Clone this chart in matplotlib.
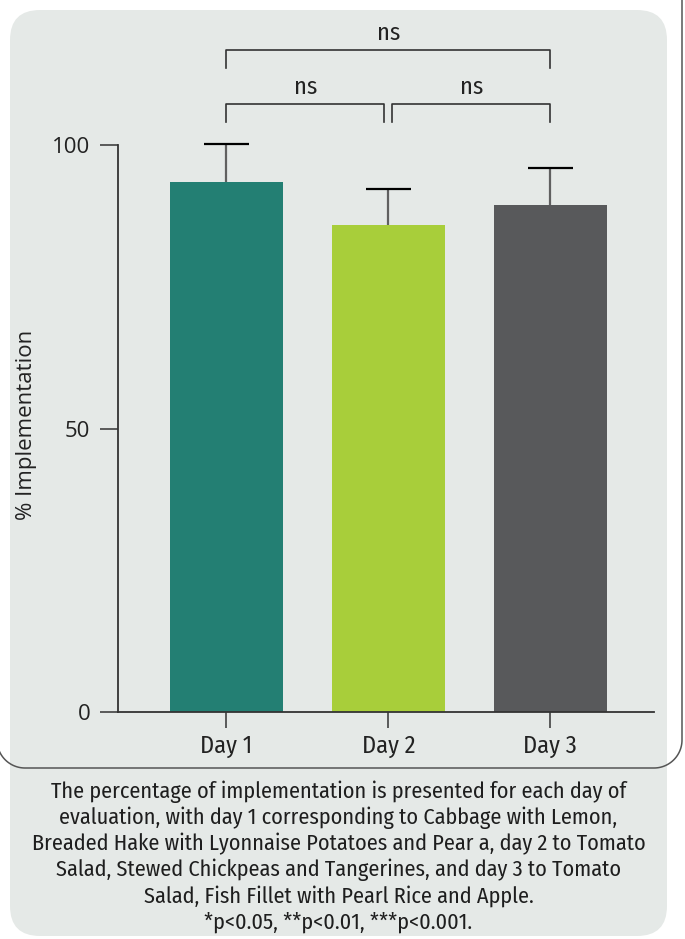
import matplotlib
matplotlib.use("Agg")
import matplotlib.pyplot as plt
import numpy as np
from matplotlib import font_manager
from matplotlib.lines import Line2D
from matplotlib.patches import FancyBboxPatch
from matplotlib.transforms import IdentityTransform

# values
days = ["Day 1", "Day 2", "Day 3"]
means = [93.5, 85.9, 89.4]
sds = [6.6, 6.3, 6.5]
bar_colors = ["#237f73", "#a8ce3a", "#58595b"]
yticks = [0, 50, 100]
caption = [
    "The percentage of implementation is presented for each day of",
    "evaluation, with day 1 corresponding to Cabbage with Lemon,",
    "Breaded Hake with Lyonnaise Potatoes and Pear a, day 2 to Tomato",
    "Salad, Stewed Chickpeas and Tangerines, and day 3 to Tomato",
    "Salad, Fish Fillet with Pearl Rice and Apple.",
    "*p<0.05, **p<0.01, ***p<0.001.",
]
# (left, right, label) comparisons
pairs = [(0, 2, "ns"), (0, 1, "ns"), (1, 2, "ns")]


def pick(*names):
    for n in names:
        try:
            font_manager.findfont(font_manager.FontProperties(family=n),
                                  fallback_to_default=False)
            return n
        except Exception:
            pass
    return "DejaVu Sans"


wide = pick("Open Sans", "Noto Sans", "DejaVu Sans")
narrow = pick("Fira Sans Condensed", "IBM Plex Sans Condensed", "Open Sans")

W, H = 685, 939
fig = plt.figure(figsize=(W / 100, H / 100), dpi=100, facecolor="white")

# grey panel
panel = FancyBboxPatch((10, H - 936), 657, 926,
                       boxstyle="round,pad=0,rounding_size=30",
                       transform=IdentityTransform(), facecolor="#e5e9e7",
                       edgecolor="none", zorder=-5)
fig.patches.append(panel)

# rounded outline round the chart (open at the top, cut by the page edge)
r, x_l, x_r, y_b = 28, -3, 682, 768
t1 = np.linspace(0, np.pi / 2, 30)
t2 = np.linspace(np.pi / 2, np.pi, 30)
bx = np.concatenate([[x_r], x_r - r + r * np.cos(t1),
                     x_l + r + r * np.cos(t2), [x_l]])
by = np.concatenate([[-2], y_b - r + r * np.sin(t1),
                     y_b - r + r * np.sin(t2), [700]])
fig.add_artist(Line2D(bx, H - by, transform=IdentityTransform(),
                      color="#555555", linewidth=1.1, zorder=-4))

ax = fig.add_axes([118 / W, 1 - 712 / H, 536 / W, 692 / H])
ax.set_facecolor("none")
x = list(range(len(days)))
ax.bar(x, means, width=0.70, color=bar_colors, zorder=2)
tops = [m + s for m, s in zip(means, sds)]
ax.vlines(x, means, tops, color="#606060", linewidth=1.6, zorder=3)
ax.hlines(tops, [i - 0.14 for i in x], [i + 0.14 for i in x],
          color="black", linewidth=1.6, zorder=3)

ax.set_xlim(-0.67, 2.64)
ax.set_ylim(0, 122.05)
ax.set_yticks(yticks)
ax.set_yticklabels([str(t) for t in yticks], fontfamily=wide, fontsize=16,
                   color="#222222")
ax.set_xticks(x)
ax.set_xticklabels(days, fontfamily=narrow, fontsize=17.5, color="#222222")
ax.tick_params(axis="y", length=13, width=1.1, pad=7, color="#333333")
ax.tick_params(axis="x", length=11.5, width=1.1, pad=5, color="#333333")
for s in ("top", "right"):
    ax.spines[s].set_visible(False)
ax.spines["left"].set_bounds(0, 100)
for s in ("left", "bottom"):
    ax.spines[s].set_linewidth(1.3)
    ax.spines[s].set_color("#333333")

ax.set_ylabel("% Implementation", fontfamily=wide, fontsize=16,
              color="#222222", labelpad=6)
ax.yaxis.set_label_coords(-81 / 536, (712 - 425) / 692)

# significance brackets
levels = {(0, 2): 116.75, (0, 1): 107.2, (1, 2): 107.2}
for a, b, lab in pairs:
    y = levels[(a, b)]
    xa = a + (0.025 if (a, b) == (1, 2) else 0)
    xb = b - (0.025 if (a, b) == (0, 1) else 0)
    ax.plot([xa, xa, xb, xb], [y - 3.2, y, y, y - 3.2], color="#333333",
            linewidth=1.2, clip_on=False, zorder=3)
    ax.text((xa + xb) / 2, y + 1.0, lab, ha="center", va="bottom",
            fontfamily=narrow, fontsize=17.5, color="#222222")

for i, line in enumerate(caption):
    fig.text(338.5 / W, 1 - (792 + 26.0 * i) / H, line, ha="center",
             va="center", fontfamily=narrow, fontsize=16, color="#1e1e1e")

fig.savefig("out.png", dpi=100, facecolor="white")
